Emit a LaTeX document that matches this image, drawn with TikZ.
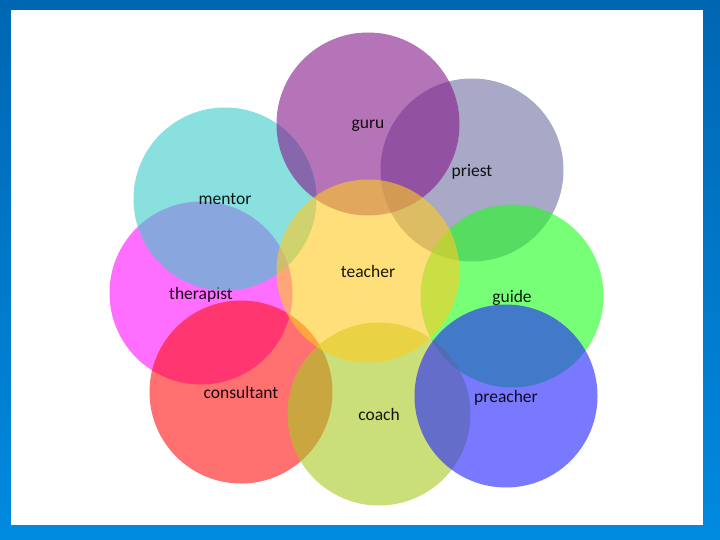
\documentclass[tikz,border=0pt]{standalone}
\usepackage{fontspec}
\setmainfont{Carlito}
\definecolor{therapistcol}{RGB}{255,15,255}
\definecolor{mentorcol}{RGB}{60,203,203}
\definecolor{priestcol}{RGB}{110,110,163}
\definecolor{gurucol}{RGB}{132,23,137}
\definecolor{guidecol}{RGB}{30,255,30}
\definecolor{consultantcol}{RGB}{255,17,17}
\definecolor{coachcol}{RGB}{167,203,33}
\definecolor{preachercol}{RGB}{33,33,255}
\definecolor{teachercol}{RGB}{255,203,33}
\definecolor{slidetop}{RGB}{0,102,178}
\definecolor{slidebot}{RGB}{0,138,224}
\tikzset{
  petal/.style={circle, draw=none, minimum size=183pt, inner sep=0pt,
    fill opacity=0.6, text opacity=0.9, text=black,
    font=\fontsize{17.5}{19}\selectfont}
}
\begin{document}
\begin{tikzpicture}[x=1pt, y=-1pt]
    \useasboundingbox (0,0) rectangle (720,540);
    % slide background
    \shade[top color=slidetop, bottom color=slidebot] (0,0) rectangle (720,540);
    \fill[white] (11,10) rectangle (703,525);
    % circles, back to front
    \foreach \name/\x/\y in {therapist/201/293, mentor/225/199, priest/472/170,
        guru/368/124, guide/512/296, consultant/241/392, coach/379/414,
        preacher/506/396, teacher/368/271} {
      \node[petal, fill=\name col, text depth=-2pt] (\name) at (\x,\y) {\name};
    }
\end{tikzpicture}
\end{document}
